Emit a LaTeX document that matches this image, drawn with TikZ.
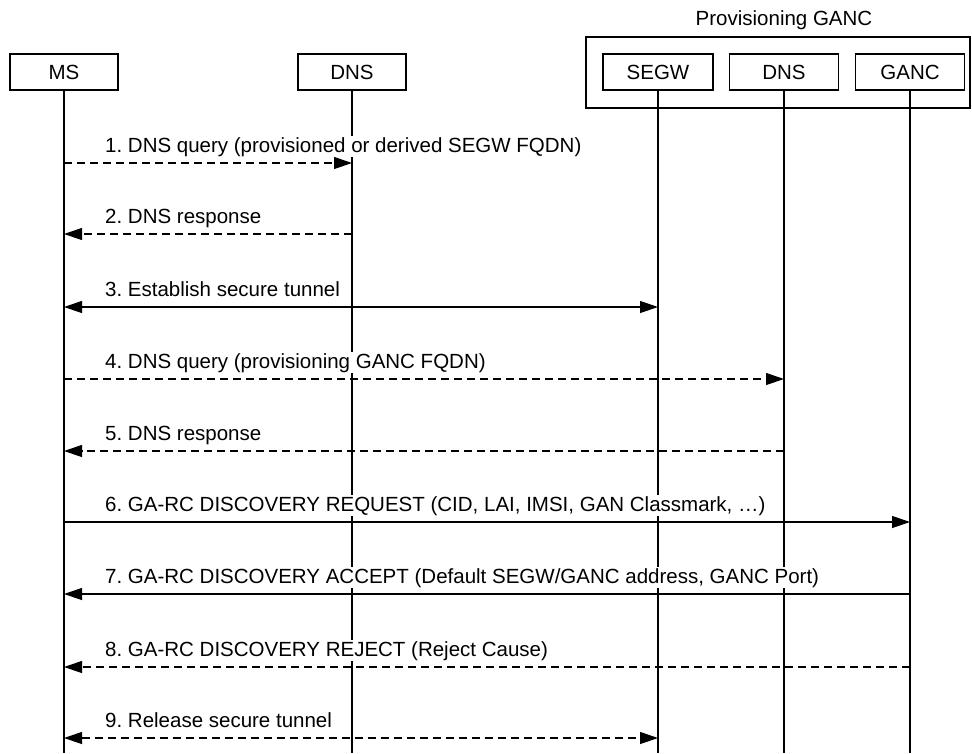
\documentclass[tikz,border=0pt]{standalone}
\usepackage{fontspec}
\setmainfont{Liberation Sans}
\usetikzlibrary{arrows.meta,positioning}
\frenchspacing

\begin{document}
\begin{tikzpicture}[x=1pt, y=-1pt,
    entity/.style={draw, line width=1.2pt, minimum height=36pt, inner sep=0pt, font=\fontsize{20.5}{24}\selectfont},
    msgtext/.style={anchor=base west, fill=white, inner sep=1pt, font=\fontsize{20.5}{24}\selectfont},
    life/.style={line width=1.2pt},
    msg/.style={line width=1.2pt, -{Triangle[length=18pt,width=12pt]}},
    dmsg/.style={msg, dash pattern=on 8pt off 5pt},
    both/.style={line width=1.2pt, {Triangle[length=18pt,width=12pt]}-{Triangle[length=18pt,width=12pt]}}
]
\useasboundingbox (0,0) rectangle (972,753);

% Provisioning GANC
\draw[line width=1.2pt] (586,37) rectangle (970,108);
\node[font=\fontsize{20.5}{24}\selectfont] (prov) at (784,20) {Provisioning GANC};

% Instanzen
\node[entity, minimum width=108pt] (ms) at (64,72) {MS};
\node[entity, minimum width=108pt] (dns) at (352,72) {DNS};
\node[entity, minimum width=110pt] (segw) at (658,72) {SEGW};
\node[entity, minimum width=109pt] (pdns) at (784,72) {DNS};
\node[entity, minimum width=109pt] (ganc) at (910,72) {GANC};

% Lebenslinien
\foreach \e in {ms,dns,segw,pdns,ganc} {
    \coordinate (\e end) at (\e |- 0,753);
    \draw[life] (\e.south) -- (\e end);
}

% Zeilen
\coordinate (r1) at (0,163);
\coordinate (r2) at (0,234);
\coordinate (r3) at (0,307);
\coordinate (r4) at (0,379);
\coordinate (r5) at (0,451);
\coordinate (r6) at (0,522);
\coordinate (r7) at (0,594);
\coordinate (r8) at (0,667);
\coordinate (r9) at (0,738);

% Beschriftungen
\node[msgtext] (t1) at (104,152) {1. DNS query (provisioned or derived SEGW FQDN)};
\node[msgtext] (t2) at (104,223) {2. DNS response};
\node[msgtext] (t3) at (104,296) {3. Establish secure tunnel};
\node[msgtext] (t4) at (104,368) {4. DNS query (provisioning GANC FQDN)};
\node[msgtext] (t5) at (104,440) {5. DNS response};
\node[msgtext] (t6) at (104,511) {6. GA-RC DISCOVERY REQUEST (CID, LAI, IMSI, GAN Classmark, \dots)};
\node[msgtext] (t7) at (104,583) {7. GA-RC DISCOVERY ACCEPT (Default SEGW/GANC address, GANC Port)};
\node[msgtext] (t8) at (104,656) {8. GA-RC DISCOVERY REJECT (Reject Cause)};
\node[msgtext] (t9) at (104,727) {9. Release secure tunnel};

% Nachrichten
\draw[dmsg] (ms |- r1) -- (dns |- r1);
\draw[dmsg] (dns |- r2) -- (ms |- r2);
\draw[both] (ms |- r3) -- (segw |- r3);
\draw[dmsg] (ms |- r4) -- (pdns |- r4);
\draw[dmsg] (pdns |- r5) -- (ms |- r5);
\draw[msg] (ms |- r6) -- (ganc |- r6);
\draw[msg] (ganc |- r7) -- (ms |- r7);
\draw[dmsg] (ganc |- r8) -- (ms |- r8);
\draw[both, dash pattern=on 8pt off 5pt] (ms |- r9) -- (segw |- r9);
\end{tikzpicture}
\end{document}
